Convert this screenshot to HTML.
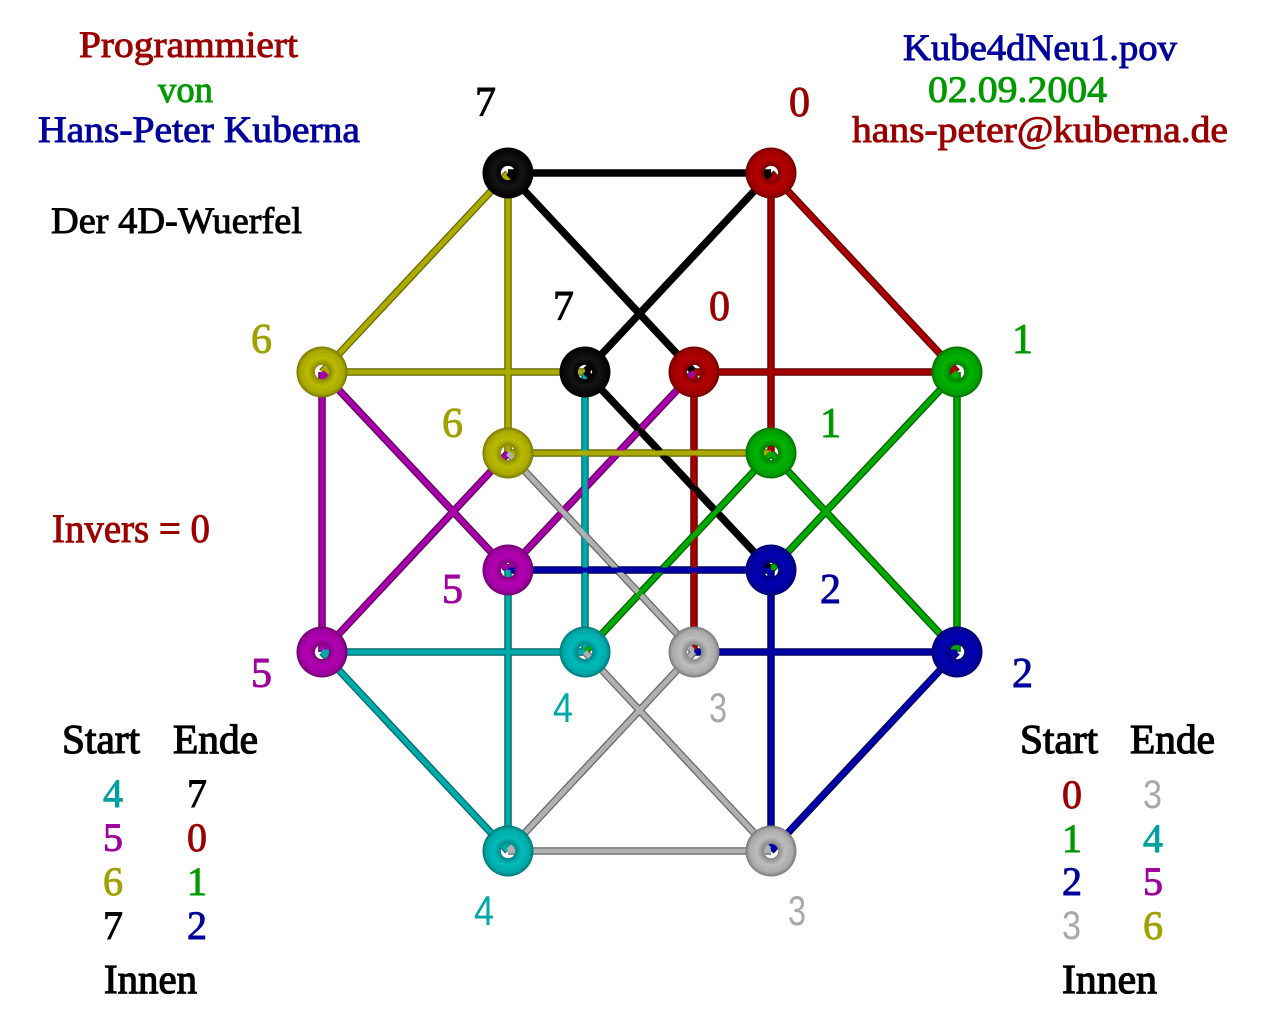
<!DOCTYPE html>
<html>
<head>
<meta charset="utf-8">
<style>
html,body{margin:0;padding:0;background:#fff;}
svg{display:block;}
text{font-family:"Liberation Serif",serif;}
.s{font-family:"Liberation Sans",sans-serif;}
</style>
</head>
<body>
<svg width="1280" height="1024" viewBox="0 0 1280 1024" xmlns="http://www.w3.org/2000/svg">
<defs>
<radialGradient id="gk" cx="0.5" cy="0.5" r="0.5">
<stop offset="0" stop-color="#000" stop-opacity="0"/><stop offset="0.27" stop-color="#000" stop-opacity="0"/>
<stop offset="0.29" stop-color="#000"/><stop offset="0.55" stop-color="#151515"/><stop offset="1" stop-color="#000"/></radialGradient>
<radialGradient id="gr" cx="0.5" cy="0.5" r="0.5">
<stop offset="0" stop-color="#a00000" stop-opacity="0"/><stop offset="0.27" stop-color="#a00000" stop-opacity="0"/>
<stop offset="0.29" stop-color="#800000"/><stop offset="0.55" stop-color="#b40000"/><stop offset="0.85" stop-color="#a00000"/><stop offset="1" stop-color="#700000"/></radialGradient>
<radialGradient id="gg" cx="0.5" cy="0.5" r="0.5">
<stop offset="0" stop-color="#00a000" stop-opacity="0"/><stop offset="0.27" stop-color="#00a000" stop-opacity="0"/>
<stop offset="0.29" stop-color="#008000"/><stop offset="0.55" stop-color="#00b400"/><stop offset="0.85" stop-color="#00a000"/><stop offset="1" stop-color="#007000"/></radialGradient>
<radialGradient id="gb" cx="0.5" cy="0.5" r="0.5">
<stop offset="0" stop-color="#0000a0" stop-opacity="0"/><stop offset="0.27" stop-color="#0000a0" stop-opacity="0"/>
<stop offset="0.29" stop-color="#000080"/><stop offset="0.55" stop-color="#0000b4"/><stop offset="0.85" stop-color="#0000a0"/><stop offset="1" stop-color="#000070"/></radialGradient>
<radialGradient id="go" cx="0.5" cy="0.5" r="0.5">
<stop offset="0" stop-color="#a8a800" stop-opacity="0"/><stop offset="0.27" stop-color="#a8a800" stop-opacity="0"/>
<stop offset="0.29" stop-color="#888800"/><stop offset="0.55" stop-color="#bbbb00"/><stop offset="0.85" stop-color="#a8a800"/><stop offset="1" stop-color="#777700"/></radialGradient>
<radialGradient id="gm" cx="0.5" cy="0.5" r="0.5">
<stop offset="0" stop-color="#a000a0" stop-opacity="0"/><stop offset="0.27" stop-color="#a000a0" stop-opacity="0"/>
<stop offset="0.29" stop-color="#800080"/><stop offset="0.55" stop-color="#b400b4"/><stop offset="0.85" stop-color="#a000a0"/><stop offset="1" stop-color="#700070"/></radialGradient>
<radialGradient id="gc" cx="0.5" cy="0.5" r="0.5">
<stop offset="0" stop-color="#00a8a8" stop-opacity="0"/><stop offset="0.27" stop-color="#00a8a8" stop-opacity="0"/>
<stop offset="0.29" stop-color="#008888"/><stop offset="0.55" stop-color="#00bbbb"/><stop offset="0.85" stop-color="#00a8a8"/><stop offset="1" stop-color="#007777"/></radialGradient>
<radialGradient id="ga" cx="0.5" cy="0.5" r="0.5">
<stop offset="0" stop-color="#aaa" stop-opacity="0"/><stop offset="0.27" stop-color="#aaa" stop-opacity="0"/>
<stop offset="0.29" stop-color="#888"/><stop offset="0.55" stop-color="#bdbdbd"/><stop offset="0.85" stop-color="#aaa"/><stop offset="1" stop-color="#777"/></radialGradient>
</defs>

<!-- edges: dark outline -->
<g stroke-width="7.5" stroke-linecap="butt" fill="none">
<line x1="508" y1="173" x2="771" y2="173" stroke="#000"/>
<line x1="508" y1="173" x2="322" y2="372" stroke="#666600"/>
<line x1="508" y1="173" x2="508" y2="453" stroke="#666600"/>
<line x1="508" y1="173" x2="694" y2="372" stroke="#000"/>
<line x1="771" y1="173" x2="957" y2="372" stroke="#600000"/>
<line x1="771" y1="173" x2="771" y2="453" stroke="#600000"/>
<line x1="771" y1="173" x2="585" y2="372" stroke="#000"/>
<line x1="322" y1="372" x2="585" y2="372" stroke="#666600"/>
<line x1="322" y1="372" x2="322" y2="652" stroke="#600060"/>
<line x1="322" y1="372" x2="508" y2="570" stroke="#600060"/>
<line x1="694" y1="372" x2="957" y2="372" stroke="#600000"/>
<line x1="694" y1="372" x2="694" y2="652" stroke="#600000"/>
<line x1="694" y1="372" x2="508" y2="570" stroke="#600060"/>
<line x1="585" y1="372" x2="585" y2="652" stroke="#006666"/>
<line x1="585" y1="372" x2="771" y2="570" stroke="#000"/>
<line x1="957" y1="372" x2="957" y2="652" stroke="#006000"/>
<line x1="957" y1="372" x2="771" y2="570" stroke="#006000"/>
<line x1="508" y1="453" x2="771" y2="453" stroke="#666600"/>
<line x1="508" y1="453" x2="322" y2="652" stroke="#600060"/>
<line x1="508" y1="453" x2="694" y2="652" stroke="#666"/>
<line x1="771" y1="453" x2="585" y2="652" stroke="#006000"/>
<line x1="771" y1="453" x2="957" y2="652" stroke="#006000"/>
<line x1="508" y1="570" x2="771" y2="570" stroke="#000060"/>
<line x1="508" y1="570" x2="508" y2="851" stroke="#006666"/>
<line x1="771" y1="570" x2="771" y2="851" stroke="#000060"/>
<line x1="322" y1="652" x2="585" y2="652" stroke="#006666"/>
<line x1="322" y1="652" x2="508" y2="851" stroke="#006666"/>
<line x1="694" y1="652" x2="957" y2="652" stroke="#000060"/>
<line x1="694" y1="652" x2="508" y2="851" stroke="#666"/>
<line x1="585" y1="652" x2="771" y2="851" stroke="#666"/>
<line x1="957" y1="652" x2="771" y2="851" stroke="#000060"/>
<line x1="508" y1="851" x2="771" y2="851" stroke="#666"/>
</g>
<!-- edges: main colour -->
<g stroke-width="5" stroke-linecap="butt" fill="none">
<line x1="508" y1="173" x2="771" y2="173" stroke="#000"/>
<line x1="508" y1="173" x2="322" y2="372" stroke="#aaaa00"/>
<line x1="508" y1="173" x2="508" y2="453" stroke="#aaaa00"/>
<line x1="508" y1="173" x2="694" y2="372" stroke="#000"/>
<line x1="771" y1="173" x2="957" y2="372" stroke="#a80000"/>
<line x1="771" y1="173" x2="771" y2="453" stroke="#a80000"/>
<line x1="771" y1="173" x2="585" y2="372" stroke="#000"/>
<line x1="322" y1="372" x2="585" y2="372" stroke="#aaaa00"/>
<line x1="322" y1="372" x2="322" y2="652" stroke="#a800a8"/>
<line x1="322" y1="372" x2="508" y2="570" stroke="#a800a8"/>
<line x1="694" y1="372" x2="957" y2="372" stroke="#a80000"/>
<line x1="694" y1="372" x2="694" y2="652" stroke="#a80000"/>
<line x1="694" y1="372" x2="508" y2="570" stroke="#a800a8"/>
<line x1="585" y1="372" x2="585" y2="652" stroke="#00aaaa"/>
<line x1="585" y1="372" x2="771" y2="570" stroke="#000"/>
<line x1="957" y1="372" x2="957" y2="652" stroke="#00a800"/>
<line x1="957" y1="372" x2="771" y2="570" stroke="#00a800"/>
<line x1="508" y1="453" x2="771" y2="453" stroke="#aaaa00"/>
<line x1="508" y1="453" x2="322" y2="652" stroke="#a800a8"/>
<line x1="508" y1="453" x2="694" y2="652" stroke="#b0b0b0"/>
<line x1="771" y1="453" x2="585" y2="652" stroke="#00a800"/>
<line x1="771" y1="453" x2="957" y2="652" stroke="#00a800"/>
<line x1="508" y1="570" x2="771" y2="570" stroke="#0000a8"/>
<line x1="508" y1="570" x2="508" y2="851" stroke="#00aaaa"/>
<line x1="771" y1="570" x2="771" y2="851" stroke="#0000a8"/>
<line x1="322" y1="652" x2="585" y2="652" stroke="#00aaaa"/>
<line x1="322" y1="652" x2="508" y2="851" stroke="#00aaaa"/>
<line x1="694" y1="652" x2="957" y2="652" stroke="#0000a8"/>
<line x1="694" y1="652" x2="508" y2="851" stroke="#b0b0b0"/>
<line x1="585" y1="652" x2="771" y2="851" stroke="#b0b0b0"/>
<line x1="957" y1="652" x2="771" y2="851" stroke="#0000a8"/>
<line x1="508" y1="851" x2="771" y2="851" stroke="#b0b0b0"/>
</g>

<!-- tori -->
<g>
<circle cx="508" cy="173" r="25.5" fill="url(#gk)"/>
<circle cx="771" cy="173" r="25.5" fill="url(#gr)"/>
<circle cx="322" cy="372" r="25.5" fill="url(#go)"/>
<circle cx="957" cy="372" r="25.5" fill="url(#gg)"/>
<circle cx="585" cy="372" r="25.5" fill="url(#gk)"/>
<circle cx="694" cy="372" r="25.5" fill="url(#gr)"/>
<circle cx="508" cy="453" r="25.5" fill="url(#go)"/>
<circle cx="771" cy="453" r="25.5" fill="url(#gg)"/>
<circle cx="508" cy="570" r="25.5" fill="url(#gm)"/>
<circle cx="771" cy="570" r="25.5" fill="url(#gb)"/>
<circle cx="322" cy="652" r="25.5" fill="url(#gm)"/>
<circle cx="957" cy="652" r="25.5" fill="url(#gb)"/>
<circle cx="585" cy="652" r="25.5" fill="url(#gc)"/>
<circle cx="694" cy="652" r="25.5" fill="url(#ga)"/>
<circle cx="508" cy="851" r="25.5" fill="url(#gc)"/>
<circle cx="771" cy="851" r="25.5" fill="url(#ga)"/>
</g>

<!-- header text -->
<g font-size="37" stroke-width="0.9">
<text x="79" y="57" fill="#9a0000" stroke="#9a0000" textLength="219" lengthAdjust="spacingAndGlyphs">Programmiert</text>
<text x="158" y="102" fill="#009a00" stroke="#009a00" textLength="55" lengthAdjust="spacingAndGlyphs">von</text>
<text x="38" y="142" fill="#00009a" stroke="#00009a" textLength="322" lengthAdjust="spacingAndGlyphs">Hans-Peter Kuberna</text>
<text x="51" y="233" fill="#000" stroke="#000" textLength="251" lengthAdjust="spacingAndGlyphs">Der 4D-Wuerfel</text>
<text x="903" y="60" fill="#00009a" stroke="#00009a" textLength="274" lengthAdjust="spacingAndGlyphs">Kube4dNeu1.pov</text>
<text x="928" y="102" fill="#009a00" stroke="#009a00" textLength="179" lengthAdjust="spacingAndGlyphs">02.09.2004</text>
<text x="852" y="142" fill="#9a0000" stroke="#9a0000" textLength="376" lengthAdjust="spacingAndGlyphs">hans-peter@kuberna.de</text>
</g>
<text x="52" y="542" font-size="40" fill="#9a0000" stroke="#9a0000" stroke-width="0.9" textLength="158" lengthAdjust="spacingAndGlyphs">Invers = 0</text>

<!-- legends -->
<g font-size="41" fill="#000" stroke="#000" stroke-width="1.2">
<text x="62" y="753" textLength="78" lengthAdjust="spacingAndGlyphs">Start</text>
<text x="173" y="753" textLength="85" lengthAdjust="spacingAndGlyphs">Ende</text>
<text x="104" y="993" textLength="93" lengthAdjust="spacingAndGlyphs">Innen</text>
<text x="1020" y="753" textLength="78" lengthAdjust="spacingAndGlyphs">Start</text>
<text x="1130" y="753" textLength="85" lengthAdjust="spacingAndGlyphs">Ende</text>
<text x="1062" y="993" textLength="95" lengthAdjust="spacingAndGlyphs">Innen</text>
</g>
<g font-size="40" stroke-width="0.9">
<text x="103" y="807" fill="#00a0a0" stroke="#00a0a0">4</text>
<text x="187" y="807" fill="#000" stroke="#000">7</text>
<text x="103" y="851" fill="#a000a0" stroke="#a000a0">5</text>
<text x="187" y="851" fill="#9a0000" stroke="#9a0000">0</text>
<text x="103" y="895" fill="#a0a000" stroke="#a0a000">6</text>
<text x="187" y="895" fill="#009a00" stroke="#009a00">1</text>
<text x="103" y="939" fill="#000" stroke="#000">7</text>
<text x="187" y="939" fill="#00009a" stroke="#00009a">2</text>

<text x="1062" y="808" fill="#9a0000" stroke="#9a0000">0</text>
<text x="1143" y="808" fill="#a8a8a8" class="s" textLength="19" lengthAdjust="spacingAndGlyphs">3</text>
<text x="1062" y="852" fill="#009a00" stroke="#009a00">1</text>
<text x="1143" y="852" fill="#00a0a0" stroke="#00a0a0">4</text>
<text x="1062" y="895" fill="#00009a" stroke="#00009a">2</text>
<text x="1143" y="895" fill="#a000a0" stroke="#a000a0">5</text>
<text x="1062" y="939" fill="#a8a8a8" class="s" textLength="19" lengthAdjust="spacingAndGlyphs">3</text>
<text x="1143" y="939" fill="#a0a000" stroke="#a0a000">6</text>
</g>

<!-- node labels -->
<g font-size="42" stroke-width="0.9">
<text x="475" y="116" fill="#000" stroke="#000">7</text>
<text x="789" y="116" fill="#9a0000" stroke="#9a0000">0</text>
<text x="553" y="320" fill="#000" stroke="#000">7</text>
<text x="709" y="320" fill="#9a0000" stroke="#9a0000">0</text>
<text x="251" y="353" fill="#a0a000" stroke="#a0a000">6</text>
<text x="1012" y="353" fill="#009a00" stroke="#009a00">1</text>
<text x="442" y="437" fill="#a0a000" stroke="#a0a000">6</text>
<text x="820" y="437" fill="#009a00" stroke="#009a00">1</text>
<text x="442" y="603" fill="#a000a0" stroke="#a000a0">5</text>
<text x="820" y="603" fill="#00009a" stroke="#00009a">2</text>
<text x="251" y="687" fill="#a000a0" stroke="#a000a0">5</text>
<text x="1012" y="687" fill="#00009a" stroke="#00009a">2</text>
</g>
<g font-size="42">
<text class="s" x="553" y="722" fill="#00a8a8" textLength="20" lengthAdjust="spacingAndGlyphs">4</text>
<text class="s" x="709" y="722" fill="#a8a8a8" textLength="18" lengthAdjust="spacingAndGlyphs">3</text>
<text class="s" x="474" y="925" fill="#00a8a8" textLength="20" lengthAdjust="spacingAndGlyphs">4</text>
<text class="s" x="788" y="925" fill="#a8a8a8" textLength="18" lengthAdjust="spacingAndGlyphs">3</text>
</g>
</svg>
</body>
</html>
